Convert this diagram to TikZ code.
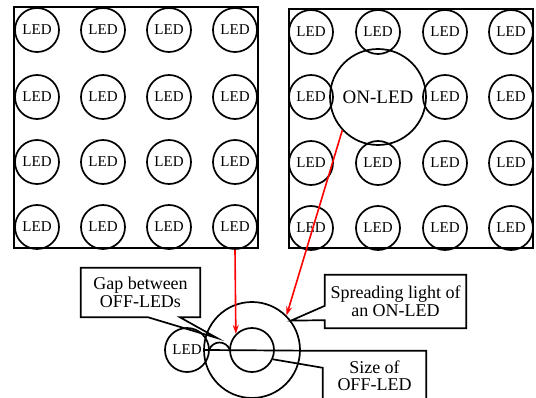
\documentclass[tikz,border=0pt]{standalone}
\usepackage{fontspec}
\setmainfont{Liberation Serif}
\usetikzlibrary{arrows.meta, calc}
\tikzset{
    % LEDs
    led/.style    = {circle, draw, line width=1.7pt, minimum size=44pt, inner sep=0pt,
                     font=\fontsize{15}{15}\selectfont},
    onled/.style  = {led, minimum size=96pt, font=\fontsize{19}{19}\selectfont},
    ring/.style   = {circle, draw, line width=1.7pt, inner sep=0pt},
    panel/.style  = {draw, line width=2pt},
    % Callouts and arrows
    note/.style   = {align=center, inner sep=0pt, font=\fontsize{18}{17.5}\selectfont},
    callout/.style= {draw, line width=1.7pt, line join=miter},
    redarrow/.style = {red, line width=1.6pt, -{Stealth[length=9pt,width=6pt]}}
}

\begin{document}
\begin{tikzpicture}[x=1pt, y=-1pt]
    \useasboundingbox (0,0) rectangle (536,398);

    % left panel: all LEDs off
    \draw [panel] (14,7) rectangle (258,248);
    \foreach \col/\x in {1/37, 2/103, 3/169, 4/235}
        \foreach \row/\y in {1/30, 2/97, 3/162, 4/227}
            \node (L\row\col) [led] at (\x,\y) {LED};

    % right panel: one LED on
    \draw [panel] (289,9) rectangle (533,248);
    \foreach \col/\x in {1/311, 2/378, 3/445, 4/511}
        \foreach \row/\y in {1/32, 2/97, 3/163, 4/228}
            {\ifnum\row\col=22 \else \node (R\row\col) [led] at (\x,\y) {LED}; \fi}
    \node (onled) [onled] at (378,97) {ON-LED};

    % close-up
    \node (outer) [ring, minimum size=96pt] at (252,350) {};
    \node (inner) [ring, minimum size=44pt] at (252,350) {};
    \node (gapled) [led] at (187,350) {LED};
    \draw [line width=1.7pt] (209,350) .. controls (213,340) and (226,340) .. (230,350);

    % callouts
    \node (gapbox) [note, minimum width=119pt, minimum height=49pt] at (140.5,292.5) {Gap between\\OFF-LEDs};
    \node (spreadbox) [note, minimum width=141pt, minimum height=53pt] at (395.5,301.5) {Spreading light of\\an ON-LED};
    \node (sizebox) [note, minimum width=103pt, minimum height=50pt] at (374.5,376) {Size of\\OFF-LED};
    \coordinate (gaptip) at (217,338);
    \coordinate (linestart) at (205,350);

    \draw [callout] (gapbox.south west) -- (gapbox.north west) -- (gapbox.north east)
        -- (gapbox.south east) -- ($(gapbox.south west)+(99,0)$) -- (gaptip)
        -- ($(gapbox.south west)+(67,0)$) -- cycle;
    \draw [callout] (outer.37) -- ($(spreadbox.north west)+(0,31)$) -- (spreadbox.north west)
        -- (spreadbox.north east) -- (spreadbox.south east) -- (spreadbox.south west)
        -- ($(spreadbox.south west)+(0,-8)$) -- cycle;
    \draw [callout] (linestart) -- (sizebox.north west) -- (sizebox.north east)
        -- (sizebox.south east) -- (sizebox.south west)
        -- ($(sizebox.north west)+(0,17)$) -- (inner.-24);

    % red arrows
    \draw [redarrow] (L44.south) -- (inner.135);
    \draw [redarrow] (onled.223) -- (outer.45);
\end{tikzpicture}
\end{document}
